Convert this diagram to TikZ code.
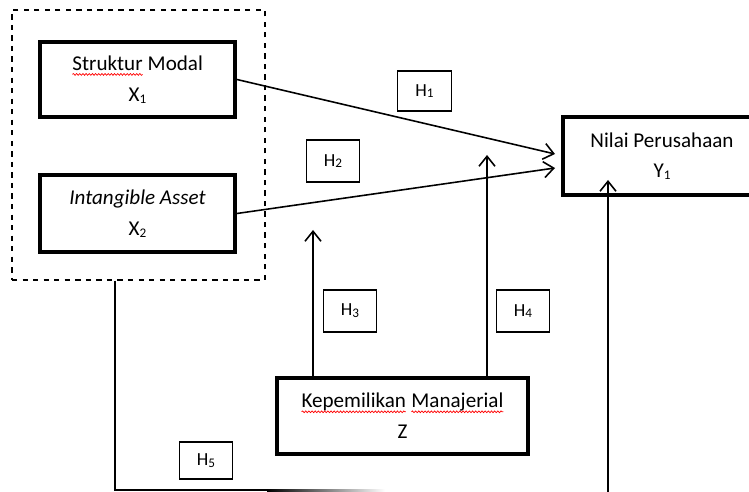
\documentclass[tikz,border=0pt]{standalone}
\usepackage{fontspec}
\setmainfont{Carlito}
\usetikzlibrary{arrows.meta, calc, decorations.pathmorphing}
\newcommand{\spell}[1]{\tikz[baseline=(w.base)]{\node [inner sep=0pt, outer sep=0pt, minimum size=0pt, draw=none] (w) {#1};
  \draw [red, line width=0.4pt, decorate, decoration={snake, amplitude=0.5pt, segment length=1.8pt}]
    ([yshift=-2.2pt]w.base west) -- ([yshift=-2.2pt]w.base east);}}
\newcommand{\sub}[1]{\raisebox{-1pt}{\fontsize{7.5}{8}\selectfont #1}}
\newcommand{\hyp}[1]{H\sub{#1}}

\begin{document}
\begin{tikzpicture}[x=0.02cm, y=-0.02cm,
    var/.style={draw, line width=2.2pt, align=center, inner sep=0pt,
      font=\fontsize{12}{17.5}\selectfont},
    hbox/.style={draw, line width=0.6pt, inner sep=0pt, minimum width=1.07cm,
      minimum height=0.8cm, font=\fontsize{10.5}{12}\selectfont},
    path/.style={line width=0.9pt},
    >={Straight Barb[length=2mm, width=3.2mm]}]
  \useasboundingbox (0,0) rectangle (749,492);
  \node (grp) [draw, dashed, line width=0.7pt, minimum width=5.06cm, minimum height=5.4cm] at (138.5,145) {};
  \node (sm) [var, minimum width=3.9cm, minimum height=1.5cm] at (137.5,79.5) {\spell{Struktur} Modal\\X\sub{1}};
  \node (ia) [var, minimum width=3.9cm, minimum height=1.54cm] at (137.5,213.5) {\textit{Intangible Asset}\\X\sub{2}};
  \node (nilai) [var, minimum width=3.96cm, minimum height=1.56cm] at (662,156) {Nilai Perusahaan\\Y\sub{1}};
  \node (km) [var, minimum width=5.02cm, minimum height=1.52cm] at (402.5,416) {\spell{Kepemilikan} \spell{Manajerial}\\Z};
  \node (h1) [hbox] at (424.5,91) {\hyp{1}};
  \node (h2) [hbox, minimum height=0.84cm] at (333,161) {\hyp{2}};
  \node (h3) [hbox, minimum height=0.84cm] at (350,311) {\hyp{3}};
  \node (h4) [hbox, minimum height=0.84cm] at (523,311) {\hyp{4}};
  \node (h5) [hbox, minimum height=0.74cm] at (206,460.5) {\hyp{5}};
  \coordinate (t1) at (555,154);
  \coordinate (t2) at (555,168);
  \coordinate (t3) at (313,230);
  \coordinate (t4) at (487,155);
  \coordinate (t5) at (608,180);
  \coordinate (b5) at (608,494);
  \coordinate (c5) at (115,490);
  \coordinate (f5) at (267,490);
  \draw [path, ->] (sm.east) -- (t1);
  \draw [path, ->] (ia.east) -- (t2);
  \draw [path, ->] (km.north -| t3) -- (t3);
  \draw [path, ->] (km.north -| t4) -- (t4);
  \draw [path, ->] (b5) -- (t5);
  \draw [path] (grp.south -| c5) -- (c5) -- (f5);
  \shade [left color=black, right color=white] ($(f5)+(0,-1)$) rectangle ($(f5)+(118,1)$);
\end{tikzpicture}
\end{document}
